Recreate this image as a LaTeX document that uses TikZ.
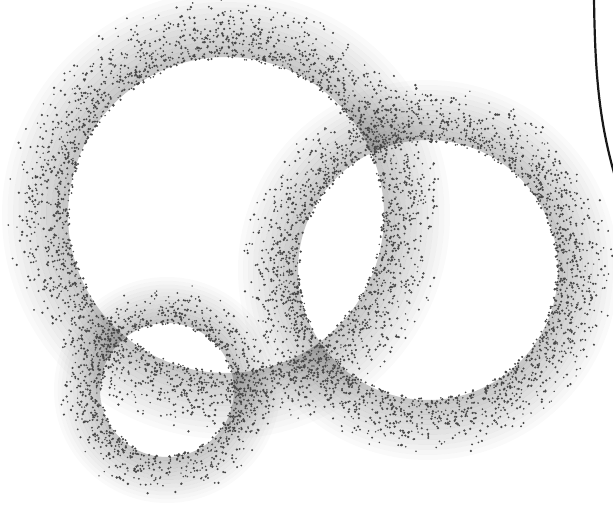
\documentclass[tikz,border=0pt]{standalone}
\usetikzlibrary{calc}
\tikzset{
  dotc/.style={fill=black!72},
  edgeline/.style={line width=2.2pt, draw=black!90, line cap=round}
}
% tone of a stippled ring: cx, cy, inner radius, width
\newcommand\ringtone[4]{%
  \foreach \j in {0,...,11}{%
    \pgfmathsetmacro\rop{0.22*(1-\j/12)}%
    \pgfmathsetmacro\rlw{#4/12}%
    \pgfmathsetmacro\rrad{#3+(\j+0.5)*#4/12}%
    \draw[line width=\rlw pt, draw=black, draw opacity=\rop] (#1,#2) circle[radius=\rrad pt];
  }%
}
% random dots of a stippled ring: cx, cy, inner radius, width, count
\newcommand\ringdots[5]{%
  \foreach \k in {1,...,#5}{%
    \pgfmathsetmacro\da{360*rnd}%
    \pgfmathsetmacro\dd{#3-2+#4*min(rnd,rnd)}%
    \pgfmathsetmacro\dr{0.75+0.6*rnd}%
    \fill[dotc] (#1,#2) ++(\da:\dd) circle[radius=\dr pt];
  }%
}
\begin{document}
\begin{tikzpicture}[x=1pt,y=-1pt]
  \pgfmathsetseed{4217}
  \fill[white] (0,0) rectangle (613,513);
  \useasboundingbox (0,0) rectangle (613,513);
  % tones
  \ringtone{226}{215}{158}{66}
  \ringtone{428}{270}{130}{60}
  \ringtone{167}{390}{67}{46}
  % dots
  \ringdots{226}{215}{158}{66}{2800}
  \ringdots{428}{270}{130}{60}{2400}
  \ringdots{167}{390}{67}{46}{1000}
  % curved line at top right
  \coordinate (lt) at (594,-2);
  \coordinate (lb) at (616,180);
  \draw[edgeline] (lt) .. controls (595,80) and (600,125) .. (lb);
\end{tikzpicture}
\end{document}
